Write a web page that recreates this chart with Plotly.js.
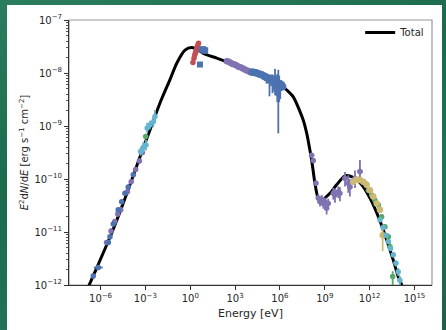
<!DOCTYPE html>
<html>
<head>
<meta charset="utf-8">
<script src="https://cdn.plot.ly/plotly-3.0.1.min.js"></script>
<style>
html,body{margin:0;padding:0;width:446px;height:330px;overflow:hidden;
background:linear-gradient(160deg,#2a7d5e 0%,#1d6a4d 40%,#22735a 70%,#1a6248 100%);}
#paper{position:absolute;left:7px;top:5px;width:435px;height:325px;background:#fff;}
#chart{position:absolute;left:0;top:0;width:446px;height:330px;}
</style>
</head>
<body>
<div id="paper"></div>
<div id="chart"></div>
<script>
// ---- model curve (log10 E [eV], log10 E^2dN/dE [erg s^-1 cm^-2]) ----
const modelLogE = [-6.9,-6.76,-6.26,-5.37,-4.70,-4.03,-3.36,-2.70,-2.03,-1.35,-0.91,-0.35,0.09,0.50,0.87,1.77,2.54,4.11,5.11,5.70,6.22,6.45,6.89,7.56,7.80,8.00,8.12,8.34,8.56,8.79,9.34,9.79,10.35,10.90,11.47,12.02,12.58,13.14,13.58,13.91,14.14,14.3];
const modelLogF = [-12.1,-12.0,-11.68,-11.10,-10.62,-10.11,-9.58,-9.08,-8.57,-8.12,-7.82,-7.57,-7.52,-7.56,-7.63,-7.72,-7.80,-7.97,-8.07,-8.15,-8.26,-8.32,-8.45,-8.89,-9.15,-9.45,-9.64,-10.08,-10.36,-10.40,-10.27,-10.11,-9.94,-9.97,-10.11,-10.36,-10.71,-11.15,-11.53,-11.84,-12.0,-12.2];

// ---- data series (log10 values, errors in dex) ----
const radioBlueE = [-6.49,-6.15,-5.48,-5.37,-5.15,-4.82,-4.59,-4.37,-4.15,-3.81];
const radioBlueF = [-11.83,-11.67,-11.20,-11.09,-10.85,-10.58,-10.43,-10.27,-10.15,-9.92];
const radioBlueErr = [0.04,0.03,0.04,0.03,0.04,0.03,0.03,0.03,0.03,0.03];
const radioBlueXErr = [0.06,0.3,0.15,0.05,0.05,0.05,0.05,0.05,0.05,0.05];

const radioPurpleE = [-5.6,-5.3,-5.05,-4.85,-4.65,-4.2,-3.95,-3.65,-3.4,-3.2];
const radioPurpleF = [-11.20,-10.98,-10.80,-10.66,-10.58,-10.24,-10.05,-9.82,-9.66,-9.50];
const radioPurpleErr = [0.05,0.05,0.04,0.05,0.05,0.05,0.04,0.04,0.05,0.05];

const irCyanE = [-3.32,-3.14,-2.96,-2.88,-2.70,-2.47,-2.36];
const irCyanF = [-9.48,-9.40,-9.36,-9.04,-8.98,-8.92,-8.82];
const irCyanErr = [0.08,0.1,0.1,0.1,0.08,0.1,0.12];

const irGreenE = [-2.98];
const irGreenF = [-9.20];
const irGreenErr = [0.05];

const optRedE = [0.18,0.25,0.30,0.35,0.40,0.45,0.50,0.55];
const optRedF = [-7.80,-7.72,-7.66,-7.62,-7.57,-7.52,-7.48,-7.44];
const optRedErr = [0.05,0.05,0.05,0.05,0.04,0.04,0.04,0.04];

const optBlueE = [0.65,0.76,0.85,0.95,1.0];
const optBlueF = [-7.84,-7.56,-7.55,-7.58,-7.57];

const xPurpleE = [2.45,2.58,2.71,2.84,2.97,3.10,3.23,3.36,3.49,3.62,3.75,3.88,4.0,4.1];
const xPurpleF = [-7.78,-7.79,-7.81,-7.83,-7.84,-7.86,-7.88,-7.89,-7.91,-7.93,-7.95,-7.96,-7.98,-7.99];

const xBlueE = [4.15,4.3,4.45,4.6,4.75,4.9,5.0,5.1,5.2,5.3,5.4,5.5,5.6,5.67,5.75,5.82,5.89,5.95,6.02,6.1,6.18];
const xBlueF = [-7.98,-7.99,-8.0,-8.02,-8.03,-8.05,-8.07,-8.08,-8.10,-8.12,-8.10,-8.13,-8.15,-8.12,-8.18,-8.20,-8.22,-8.20,-8.24,-8.22,-8.26];
const xBlueErrUp = [0.02,0.02,0.03,0.03,0.04,0.04,0.05,0.06,0.05,0.08,0.06,0.10,0.08,0.20,0.12,0.18,0.28,0.15,0.10,0.08,0.05];
const xBlueErrDn = [0.02,0.02,0.03,0.04,0.05,0.06,0.08,0.12,0.10,0.32,0.15,0.25,0.20,0.30,0.25,0.35,0.92,0.35,0.25,0.12,0.06];

const gPurpleE = [8.12,8.23,8.41,8.56,8.68,8.79,8.90,9.01,9.12,9.23,9.57,9.68,9.90,10.01,10.35,10.57,10.68,11.02,11.35];
const gPurpleF = [-9.55,-9.65,-10.08,-10.36,-10.43,-10.38,-10.46,-10.43,-10.55,-10.46,-10.27,-10.30,-10.24,-10.27,-9.99,-10.08,-10.15,-9.99,-9.86];
const gPurpleErrUp = [0.04,0.04,0.05,0.07,0.08,0.08,0.09,0.08,0.1,0.09,0.1,0.12,0.1,0.12,0.12,0.15,0.15,0.15,0.22];
const gPurpleErrDn = [0.04,0.04,0.05,0.08,0.09,0.09,0.1,0.09,0.12,0.1,0.12,0.15,0.12,0.15,0.15,0.18,0.18,0.18,0.22];
const gPurpleXErr = [0.05,0.05,0.06,0.1,0.1,0.1,0.1,0.1,0.1,0.1,0.15,0.15,0.15,0.15,0.18,0.18,0.18,0.2,0.2];

const tevYellowE = [10.90,11.13,11.35,11.57,11.80,12.02,12.24,12.47,12.69,12.87];
const tevYellowF = [-10.05,-10.01,-10.02,-10.05,-10.11,-10.21,-10.33,-10.46,-10.58,-11.06];
const tevYellowErrUp = [0.05,0.04,0.03,0.03,0.03,0.03,0.03,0.03,0.04,0.15];
const tevYellowErrDn = [0.05,0.04,0.03,0.03,0.03,0.03,0.03,0.03,0.04,0.30];

const tevGreenE = [11.69,11.91,12.13,12.35,12.58,12.80,13.02,13.25,13.36,13.54];
const tevGreenF = [-10.08,-10.21,-10.30,-10.40,-10.49,-10.71,-10.90,-11.09,-11.28,-11.84];
const tevGreenErrUp = [0.03,0.03,0.03,0.03,0.04,0.04,0.05,0.06,0.08,0.10];
const tevGreenErrDn = [0.03,0.03,0.03,0.03,0.04,0.04,0.05,0.06,0.08,0.25];

const tevCyanE = [12.69,12.91,13.09,13.25,13.40,13.58,13.76,13.91,14.02];
const tevCyanF = [-10.77,-10.91,-11.06,-11.18,-11.31,-11.43,-11.59,-11.75,-11.91];
const tevCyanErrUp = [0.03,0.03,0.03,0.04,0.04,0.05,0.05,0.07,0.08];
const tevCyanErrDn = [0.03,0.03,0.03,0.04,0.04,0.05,0.06,0.08,0.15];

const xTickVals = [-6,-3,0,3,6,9,12,15];
const xTickText = ['10<sup>−6</sup>','10<sup>−3</sup>','10<sup>0</sup>','10<sup>3</sup>','10<sup>6</sup>','10<sup>9</sup>','10<sup>12</sup>','10<sup>15</sup>'];
const yTickVals = [-12,-11,-10,-9,-8,-7];
const yTickText = ['10<sup>−12</sup>','10<sup>−11</sup>','10<sup>−10</sup>','10<sup>−9</sup>','10<sup>−8</sup>','10<sup>−7</sup>'];

const COL = {blue:'#4C72B0', green:'#55A868', red:'#C44E52', purple:'#8172B2', yellow:'#CCB974', cyan:'#64B5CD'};

const p10 = v => Math.pow(10, v);
function series(logE, logF, color, opts) {
  opts = opts || {};
  const x = logE.map(p10), y = logF.map(p10);
  const up = opts.up || opts.err, dn = opts.dn || opts.err;
  const tr = {
    type:'scatter', mode:'markers', x:x, y:y, showlegend:false, hoverinfo:'skip',
    marker:{color:color, size:opts.size||5.5, symbol:opts.symbol||'circle', line:{width:0}}
  };
  if (up) {
    tr.error_y = {type:'data', symmetric:false,
      array: y.map((v,i)=>v*(p10(up[i])-1)),
      arrayminus: y.map((v,i)=>v*(1-p10(-dn[i]))),
      color:color, thickness:1.8, width:0};
  }
  if (opts.xerr) {
    tr.error_x = {type:'data', symmetric:false,
      array: x.map((v,i)=>v*(p10(opts.xerr[i])-1)),
      arrayminus: x.map((v,i)=>v*(1-p10(-opts.xerr[i]))),
      color:color, thickness:1.8, width:0};
  }
  return tr;
}

const traces = [
  {type:'scatter', mode:'lines', name:'Total', x:modelLogE.map(p10), y:modelLogF.map(p10),
   line:{color:'#000', width:3, shape:'spline', smoothing:0.7}, hoverinfo:'skip'},
  series(radioPurpleE, radioPurpleF, COL.purple, {err:radioPurpleErr}),
  series(radioBlueE, radioBlueF, COL.blue, {err:radioBlueErr, xerr:radioBlueXErr}),
  series(irCyanE, irCyanF, COL.cyan, {err:irCyanErr, xerr:irCyanE.map(()=>0.06)}),
  series(irGreenE, irGreenF, COL.green, {err:irGreenErr}),
  series(optRedE, optRedF, COL.red, {err:optRedErr}),
  series(optBlueE, optBlueF, COL.blue, {symbol:'square', size:6}),
  series(xPurpleE, xPurpleF, COL.purple, {size:6.5}),
  series(xBlueE, xBlueF, COL.blue, {up:xBlueErrUp, dn:xBlueErrDn, size:7.5}),
  series(gPurpleE, gPurpleF, COL.purple, {up:gPurpleErrUp, dn:gPurpleErrDn, xerr:gPurpleXErr}),
  series(tevGreenE, tevGreenF, COL.green, {up:tevGreenErrUp, dn:tevGreenErrDn}),
  series(tevYellowE, tevYellowF, COL.yellow, {up:tevYellowErrUp, dn:tevYellowErrDn, size:6.5}),
  series(tevCyanE, tevCyanF, COL.cyan, {up:tevCyanErrUp, dn:tevCyanErrDn})
];

// minor tick positions for log y axis
const yMinor = [];
for (let d=-12; d<-7; d++) for (let k=2; k<10; k++) yMinor.push(k*p10(d));

const font = {family:'DejaVu Sans, sans-serif', size:10, color:'#262626'};
const titleFont = {family:'DejaVu Sans, sans-serif', size:11, color:'#262626'};
const layout = {
  width:446, height:330,
  margin:{l:69, r:14, t:20, b:45, pad:0},
  paper_bgcolor:'rgba(0,0,0,0)', plot_bgcolor:'#fff',
  font:font,
  showlegend:true,
  legend:{x:0.995, y:1.008, xanchor:'right', yanchor:'top', bgcolor:'rgba(255,255,255,0)',
          font:{family:'DejaVu Sans, sans-serif', size:10, color:'#262626'}},
  xaxis:{type:'log', range:[-8.11,16.17], showgrid:false, zeroline:false,
         tickmode:'array', tickvals:xTickVals.map(p10), ticktext:xTickText,
         ticks:'outside', ticklen:4, tickcolor:'#333', tickwidth:1,
         showline:true, linecolor:'#333', linewidth:1, mirror:false,
         tickfont:font,
         title:{text:'Energy [eV]', font:titleFont, standoff:6}},
  yaxis:{type:'log', range:[-12,-7], showgrid:false, zeroline:false,
         tickmode:'array', tickvals:yTickVals.map(p10), ticktext:yTickText,
         ticks:'outside', ticklen:4, tickcolor:'#333', tickwidth:1,
         minor:{tickmode:'array', tickvals:yMinor, ticks:'outside', ticklen:2, tickcolor:'#555', showgrid:false},
         showline:true, linecolor:'#333', linewidth:1, mirror:false,
         tickfont:font,
         title:{text:'<i>E</i><sup>2</sup>d<i>N</i>/d<i>E</i> [erg s<sup>−1</sup> cm<sup>−2</sup>]', font:font, standoff:3}},
  shapes:[{type:'rect', xref:'paper', yref:'paper', x0:0, x1:1, y0:0, y1:1,
           line:{color:'#999', width:1.2}, layer:'below'}]
};

Plotly.newPlot('chart', traces, layout, {staticPlot:true, displayModeBar:false});
</script>
</body>
</html>
